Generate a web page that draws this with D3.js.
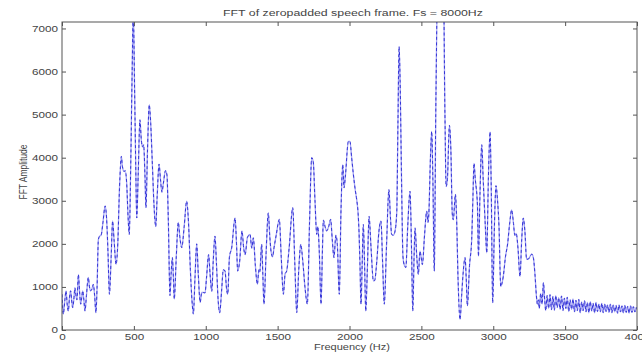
<!DOCTYPE html>
<html>
<head>
<meta charset="utf-8">
<script src="https://cdn.jsdelivr.net/npm/d3@7"></script>
<style>
  html, body { margin: 0; padding: 0; background: #fff; overflow: hidden; }
  svg { display: block; }
  text { font-family: "Liberation Sans", Arial, Helvetica, sans-serif; }
</style>
</head>
<body>
<script>
// ---- Data ----
const titleText = "FFT of zeropadded speech frame. Fs = 8000Hz";
const xLabelText = "Frequency (Hz)";
const yLabelText = "FFT Amplitude";
const xTicks = [0, 500, 1000, 1500, 2000, 2500, 3000, 3500, 4000];
const yTicks = [0, 1000, 2000, 3000, 4000, 5000, 6000, 7000];

const freqs = [
  0, 9, 20, 28, 36, 44, 52, 60, 67, 74, 82, 90, 97, 104, 114, 122, 130, 137, 144, 152,
  160, 170, 183, 191, 199, 208, 218, 227, 236, 244, 253, 262, 272, 285, 300, 310, 320, 330, 342, 352,
  362, 376, 388, 400, 413, 420, 432, 440, 450, 460, 468, 478, 488, 496, 505, 513, 520, 530, 542, 552,
  560, 568, 577, 584, 595, 607, 617, 628, 640, 652, 662, 675, 685, 695, 705, 720, 730, 740, 751, 759,
  768, 775, 781, 795, 809, 820, 833, 850, 867, 880, 893, 904, 914, 925, 937, 948, 961, 972, 985, 995,
  1005, 1020, 1030, 1042, 1052, 1064, 1075, 1086, 1097, 1110, 1122, 1134, 1145, 1153, 1165, 1180, 1204, 1214, 1222, 1236,
  1252, 1264, 1274, 1290, 1308, 1320, 1331, 1345, 1359, 1370, 1376, 1389, 1397, 1405, 1420, 1435, 1445, 1454, 1465, 1475,
  1490, 1512, 1525, 1540, 1552, 1563, 1580, 1605, 1620, 1633, 1647, 1661, 1675, 1690, 1707, 1722, 1737, 1748, 1760, 1772,
  1780, 1790, 1802, 1812, 1818, 1830, 1841, 1855, 1869, 1880, 1892, 1905, 1915, 1929, 1941, 1953, 1962, 1972, 1992, 2003,
  2015, 2027, 2040, 2050, 2060, 2066, 2073, 2080, 2088, 2096, 2105, 2113, 2125, 2136, 2150, 2166, 2175, 2190, 2205, 2219,
  2230, 2242, 2258, 2274, 2285, 2293, 2305, 2317, 2329, 2337, 2345, 2352, 2362, 2372, 2380, 2392, 2405, 2421, 2432, 2440,
  2450, 2456, 2468, 2479, 2490, 2498, 2507, 2522, 2537, 2546, 2552, 2563, 2572, 2580, 2590, 2600, 2620, 2650, 2664, 2672,
  2681, 2695, 2705, 2715, 2722, 2737, 2745, 2755, 2769, 2780, 2790, 2804, 2812, 2820, 2835, 2850, 2858, 2866, 2875, 2890,
  2897, 2908, 2920, 2930, 2945, 2955, 2966, 2978, 2986, 2996, 3008, 3019, 3030, 3040, 3052, 3062, 3070, 3085, 3100, 3115,
  3128, 3140, 3150, 3160, 3172, 3186, 3198, 3209, 3220, 3232, 3245, 3256, 3268, 3279, 3290, 3300, 3307, 3314, 3320, 3330,
  3340, 3349, 3358, 3365, 3375, 3385, 3395, 3405, 3415, 3425, 3435, 3445, 3455, 3465, 3475, 3485, 3495, 3505, 3515, 3525,
  3535, 3545, 3555, 3565, 3575, 3585, 3595, 3605, 3615, 3625, 3635, 3645, 3655, 3665, 3675, 3685, 3695, 3705, 3715, 3725,
  3735, 3745, 3755, 3765, 3775, 3785, 3795, 3805, 3815, 3825, 3835, 3845, 3855, 3865, 3875, 3885, 3895, 3905, 3915, 3925,
  3935, 3945, 3955, 3965, 3975, 3985, 3995, 4000
];
const amps = [
  830, 370, 700, 910, 600, 440, 750, 910, 700, 520, 700, 980, 800, 700, 1290, 900, 600, 750, 910, 700,
  440, 800, 1220, 1000, 910, 950, 1060, 800, 400, 1000, 2100, 2180, 2200, 2500, 2880, 2600, 1800, 830, 1700, 2530,
  2100, 1520, 2000, 3300, 4030, 3800, 3680, 3700, 3400, 2600, 2220, 3800, 6000, 7400, 5600, 3800, 2600, 3600, 4880, 4400,
  4250, 4300, 3600, 2840, 4200, 5230, 4800, 3900, 2900, 2400, 3100, 3850, 3500, 3200, 3400, 3700, 3600, 2500, 800, 1300,
  1680, 1200, 715, 1700, 2500, 2150, 1910, 2400, 2990, 2500, 1400, 700, 370, 1200, 2000, 1300, 640, 870, 870, 860,
  1200, 1750, 1300, 900, 1600, 2180, 1500, 700, 400, 900, 1400, 1370, 950, 830, 1700, 1900, 2600, 2000, 1370, 1600,
  2300, 1900, 1750, 2150, 2220, 1900, 2140, 1500, 1060, 1400, 1350, 1990, 1300, 600, 1800, 2720, 2200, 1830, 1700, 1910,
  2200, 2570, 1700, 830, 1300, 1370, 1900, 2840, 1500, 405, 1400, 1990, 1600, 1000, 600, 2500, 4000, 3900, 3000, 2220,
  2400, 1800, 600, 1900, 2550, 2400, 2300, 2400, 2570, 2100, 1680, 2200, 2000, 830, 2800, 3840, 3300, 3600, 4380, 4380,
  4000, 3610, 3250, 3030, 2700, 2300, 1500, 600, 1500, 2450, 1500, 440, 1500, 2640, 1900, 1140, 1150, 1600, 2300, 2530,
  1600, 600, 2000, 3260, 2600, 2220, 2200, 2300, 2760, 4800, 6580, 5800, 3500, 1700, 1520, 1450, 2400, 3220, 1800, 440,
  1800, 2370, 1700, 1290, 1830, 1700, 1520, 2200, 2760, 2500, 2700, 4000, 4610, 3500, 1370, 5000, 9000, 9000, 5000, 3330,
  3500, 4750, 4200, 2700, 2560, 3150, 2600, 1200, 240, 800, 1300, 1680, 1200, 560, 1500, 2100, 3000, 3870, 3500, 2900,
  1710, 3200, 4300, 3500, 2400, 1790, 3500, 4600, 3300, 630, 2400, 3350, 3000, 2400, 1010, 1100, 1250, 1700, 2000, 2500,
  2790, 2500, 2200, 2240, 1900, 1240, 2100, 2600, 2300, 1640, 1650, 1710, 1760, 1680, 1300, 800, 600, 700, 500, 850,
  600, 1100, 700, 450, 800, 500, 820, 470, 780, 460, 800, 520, 750, 480, 790, 450, 740, 500, 760, 430,
  700, 480, 720, 420, 690, 450, 710, 400, 650, 450, 680, 420, 640, 400, 660, 440, 620, 400, 640, 430,
  600, 420, 620, 400, 600, 430, 580, 410, 600, 400, 580, 420, 570, 390, 580, 420, 560, 400, 570, 410,
  550, 390, 560, 410, 540, 420, 520, 480
];

// ---- Layout ----
const W = 642, H = 352;
const L = 62, R = 637, T = 22, B = 330;
const SX = 1.3; // horizontal stretch of text seen in the reference

const svg = d3.select("body").append("svg").attr("width", W).attr("height", H);
svg.append("rect").attr("width", W).attr("height", H).attr("fill", "#fff");

const x = d3.scaleLinear().domain([0, 4000]).range([L, R]);
const y = d3.scaleLinear().domain([0, 7150]).range([B, T]);

svg.append("defs").append("clipPath").attr("id", "plotclip")
  .append("rect").attr("x", L).attr("y", T).attr("width", R - L).attr("height", B - T);

const data = freqs.map((f, i) => ({ f, a: amps[i] }));
const line = d3.line().x(d => x(d.f)).y(d => y(d.a)).curve(d3.curveMonotoneX);

const g = svg.append("g").attr("clip-path", "url(#plotclip)");
g.append("path").datum(data).attr("d", line)
  .attr("fill", "none").attr("stroke", "#a4a4f4").attr("stroke-width", 1.3);
g.append("path").datum(data).attr("d", line)
  .attr("fill", "none").attr("stroke", "#3434d6").attr("stroke-width", 1.0)
  .attr("stroke-dasharray", "3,2.5");

// ---- Axes (MATLAB style: inward ticks on all sides) ----
const axisColor = "#555";
const textColor = "#444";
function styleAxis(sel) {
  sel.select(".domain").remove();
  sel.selectAll("line").attr("stroke", axisColor);
  sel.selectAll("text").attr("fill", textColor).attr("font-size", 9);
}

const xb = svg.append("g").attr("transform", `translate(0,${B})`)
  .call(d3.axisBottom(x).tickValues(xTicks).tickSize(-4).tickPadding(4).tickFormat(d3.format("d")));
styleAxis(xb);
xb.selectAll("text").attr("transform", `scale(${SX},1)`);

const xt = svg.append("g").attr("transform", `translate(0,${T})`)
  .call(d3.axisTop(x).tickValues(xTicks).tickSize(-4).tickFormat(""));
styleAxis(xt);

const yl = svg.append("g").attr("transform", `translate(${L},0)`)
  .call(d3.axisLeft(y).tickValues(yTicks).tickSize(-4).tickPadding(3).tickFormat(d3.format("d")));
styleAxis(yl);
yl.selectAll("text").attr("transform", `scale(${SX},1)`);

const yr = svg.append("g").attr("transform", `translate(${R},0)`)
  .call(d3.axisRight(y).tickValues(yTicks).tickSize(-4).tickFormat(""));
styleAxis(yr);

svg.append("rect").attr("x", L).attr("y", T).attr("width", R - L).attr("height", B - T)
  .attr("fill", "none").attr("stroke", axisColor).attr("stroke-width", 1);

// ---- Titles ----
svg.append("text").attr("transform", `translate(353,16) scale(${SX},1)`)
  .attr("text-anchor", "middle").attr("font-size", 9.5).attr("fill", textColor).text(titleText);

svg.append("text").attr("transform", `translate(352,350) scale(${SX},1)`)
  .attr("text-anchor", "middle").attr("font-size", 8.5).attr("fill", textColor).text(xLabelText);

svg.append("text").attr("transform", `translate(27,172) rotate(-90) scale(1,${SX})`)
  .attr("text-anchor", "middle").attr("font-size", 8.5).attr("fill", textColor).text(yLabelText);
</script>
</body>
</html>
